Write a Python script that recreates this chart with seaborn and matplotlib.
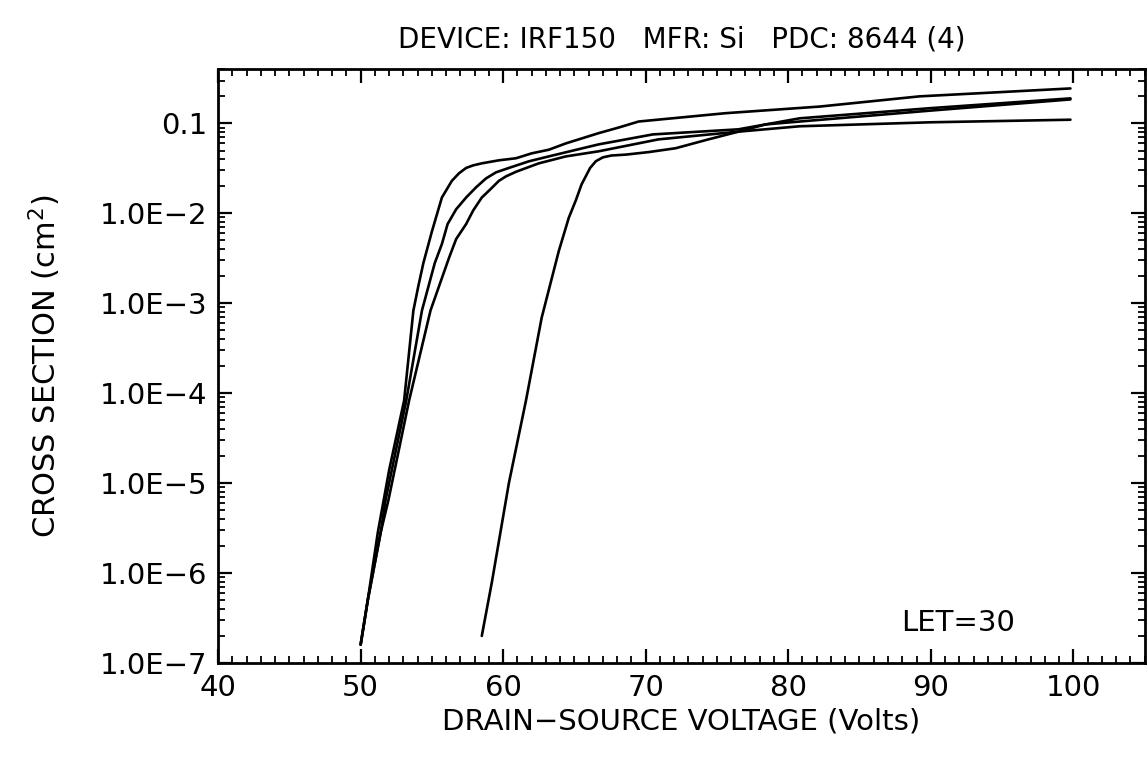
import numpy as np
import pandas as pd
import seaborn as sns
import matplotlib
matplotlib.use("Agg")
import matplotlib.pyplot as plt
from matplotlib.ticker import MultipleLocator, LogLocator, NullFormatter

# four measured curves, voltage (V) vs cross section (cm^2)
volt_a = [50.0, 50.5, 51.2, 52.0, 53.05, 53.7, 54.05, 54.4, 55.0, 55.7, 56.4, 56.9, 57.4,
          57.9, 58.5, 59.7, 60.9, 62.0, 63.2, 64.4, 66.7, 68.1, 69.5, 75.6, 82.2, 89.2, 99.8]
xs_a = [1.6e-7, 5.0e-7, 2.8e-6, 1.4e-5, 8.3e-5, 8.3e-4, 1.56e-3, 2.8e-3, 6.3e-3, 1.5e-2,
        2.3e-2, 2.79e-2, 3.2e-2, 3.42e-2, 3.6e-2, 3.89e-2, 4.1e-2, 4.65e-2, 5.1e-2, 6.0e-2,
        7.8e-2, 9.0e-2, 0.105, 0.13, 0.154, 0.20, 0.245]

volt_b = [50.0, 50.5, 51.4, 51.75, 53.2, 54.3, 55.2, 55.7, 56.1, 56.7, 57.4, 58.1, 58.8,
          59.5, 60.4, 61.8, 63.2, 66.7, 70.5, 76.5, 80.8, 90.0, 99.8]
xs_b = [1.6e-7, 5.0e-7, 2.8e-6, 6.5e-6, 8.3e-5, 8.3e-4, 2.8e-3, 4.56e-3, 7.6e-3, 1.11e-2,
        1.5e-2, 1.95e-2, 2.45e-2, 2.86e-2, 3.2e-2, 3.79e-2, 4.3e-2, 5.85e-2, 7.55e-2,
        8.6e-2, 0.114, 0.148, 0.19]

volt_c = [50.0, 50.5, 51.4, 51.95, 53.4, 54.9, 56.2, 56.7, 57.4, 57.9, 58.5, 59.1, 59.7,
          60.2, 60.9, 62.5, 64.4, 66.7, 70.9, 76.5, 80.8, 90.0, 99.8]
xs_c = [1.6e-7, 5.0e-7, 2.8e-6, 6.5e-6, 8.3e-5, 8.3e-4, 3.2e-3, 5.18e-3, 7.6e-3, 1.08e-2,
        1.5e-2, 1.85e-2, 2.3e-2, 2.58e-2, 2.9e-2, 3.6e-2, 4.3e-2, 4.9e-2, 6.65e-2, 8.1e-2,
        9.3e-2, 0.103, 0.11]

volt_d = [58.5, 59.2, 60.4, 61.6, 62.7, 63.9, 64.6, 65.1, 65.5, 66.1, 66.5, 67.0, 67.6,
          68.6, 70.2, 72.1, 74.4, 76.5, 78.4, 80.8, 90.0, 99.8]
xs_d = [2.0e-7, 7.8e-7, 1.0e-5, 8.3e-5, 6.9e-4, 3.8e-3, 8.9e-3, 1.4e-2, 2.1e-2, 3.2e-2,
        3.8e-2, 4.2e-2, 4.4e-2, 4.5e-2, 4.8e-2, 5.3e-2, 6.65e-2, 8.1e-2, 9.75e-2, 0.105,
        0.139, 0.185]

ytick_vals = [1e-7, 1e-6, 1e-5, 1e-4, 1e-3, 1e-2, 0.1]
ytick_labels = ["1.0E\u22127", "1.0E\u22126", "1.0E\u22125", "1.0E\u22124",
                "1.0E\u22123", "1.0E\u22122", "0.1"]
xtick_vals = [40, 50, 60, 70, 80, 90, 100]

title = "DEVICE: IRF150   MFR: Si   PDC: 8644 (4)"
let_note = "LET=30"

frames = []
for name, v, s in [("a", volt_a, xs_a), ("b", volt_b, xs_b),
                   ("c", volt_c, xs_c), ("d", volt_d, xs_d)]:
    frames.append(pd.DataFrame({"volt": v, "xs": s, "curve": name}))
df = pd.concat(frames, ignore_index=True)

sns.set_theme(style="ticks")
plt.rcParams["font.family"] = ["DejaVu Sans"]
plt.rcParams["text.color"] = "black"
plt.rcParams["axes.labelcolor"] = "black"
plt.rcParams["xtick.color"] = "black"
plt.rcParams["ytick.color"] = "black"

fig = plt.figure(figsize=(11.48, 7.7), dpi=100)
ax = fig.add_axes([0.19, 0.139, 0.807, 0.771])

sns.lineplot(data=df, x="volt", y="xs", hue="curve", units="curve", estimator=None,
             sort=False, palette=["black"] * 4, linewidth=1.9, legend=False, ax=ax)

ax.set_yscale("log")
ax.set_xlim(40, 105)
ax.set_ylim(1e-7, 0.4)

ax.set_xticks(xtick_vals)
ax.set_xticklabels([str(v) for v in xtick_vals])
ax.xaxis.set_minor_locator(MultipleLocator(1))
ax.set_yticks(ytick_vals)
ax.set_yticklabels(ytick_labels)
ax.yaxis.set_minor_locator(LogLocator(base=10, subs=np.arange(2, 10), numticks=20))
ax.yaxis.set_minor_formatter(NullFormatter())

ax.tick_params(which="both", direction="in", top=True, right=True)
ax.tick_params(which="major", length=10, width=1.6, labelsize=21, pad=8)
ax.tick_params(which="minor", length=5, width=1.3)
for sp in ax.spines.values():
    sp.set_linewidth(2.0)
    sp.set_color("black")

ax.set_xlabel("DRAIN\u2212SOURCE VOLTAGE (Volts)", fontsize=21, labelpad=4)
ax.set_ylabel("CROSS SECTION (cm$^2$)", fontsize=22, labelpad=26)
ax.set_title(title, fontsize=20, pad=16)
ax.text(0.86, 0.067, let_note, transform=ax.transAxes, ha="right", va="center",
        fontsize=21)

fig.savefig("out.png", dpi=100, facecolor="white")
